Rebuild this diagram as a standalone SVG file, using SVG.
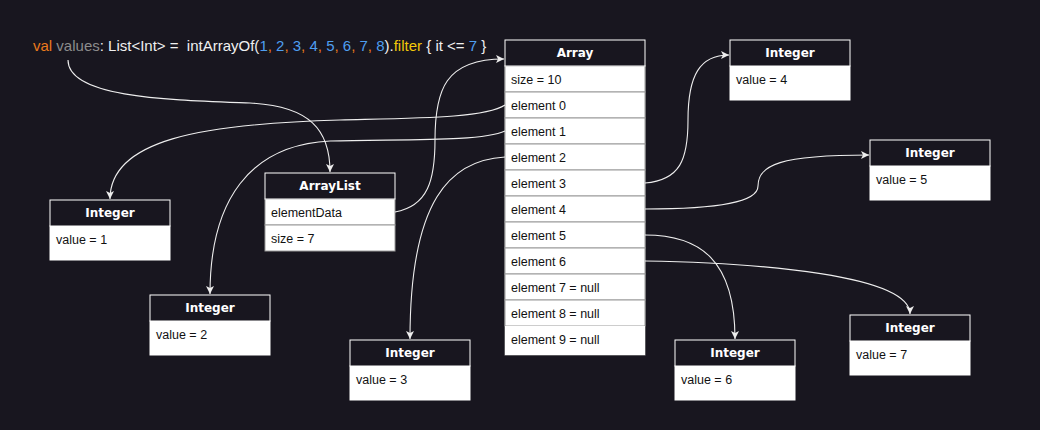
<svg xmlns="http://www.w3.org/2000/svg" width="1040" height="430" viewBox="0 0 1040 430">
<defs>
<style>
.bg{fill:#18161f}
.hd{fill:#18161f;stroke:#ffffff;stroke-width:1}
.row{fill:#ffffff;stroke:#9a9a9a;stroke-width:1}
.body{fill:#ffffff;stroke:#ffffff;stroke-width:1}
.ht{font-family:"DejaVu Sans",Verdana,sans-serif;font-weight:bold;font-size:12px;fill:#ffffff;text-anchor:middle}
.rt{font-family:"Liberation Sans",Arial,sans-serif;font-size:12.5px;fill:#111111}
.code{font-family:"Liberation Sans",Arial,sans-serif;font-size:15px;fill:#f0f0f0}
.kw{fill:#ea7a1c}
.vn{fill:#8c8c8c}
.num{fill:#4f9ef0}
.fn{fill:#f2c80a}
.edge{fill:none;stroke:#eeeeee;stroke-width:1.1}
</style>
<marker id="arr" markerWidth="10" markerHeight="10" refX="9" refY="5" orient="auto" markerUnits="userSpaceOnUse">
<path d="M1,1 L9,5 L1,9 L3,5 z" fill="#eeeeee"/>
</marker>
</defs>
<rect class="bg" x="0" y="0" width="1040" height="430"/>

<g id="code">
<text class="code" x="33" y="51" xml:space="preserve"><tspan class="kw">val</tspan> <tspan class="vn">values</tspan>: List&lt;Int&gt; =  intArrayOf(<tspan class="num">1</tspan><tspan class="kw">,</tspan> <tspan class="num">2</tspan><tspan class="kw">,</tspan> <tspan class="num">3</tspan><tspan class="kw">,</tspan> <tspan class="num">4</tspan><tspan class="kw">,</tspan> <tspan class="num">5</tspan><tspan class="kw">,</tspan> <tspan class="num">6</tspan><tspan class="kw">,</tspan> <tspan class="num">7</tspan><tspan class="kw">,</tspan> <tspan class="num">8</tspan>).<tspan class="fn">filter</tspan> { it &lt;= <tspan class="num">7</tspan> }</text>
</g>

<g id="array">
<rect class="row" x="505" y="66" width="140" height="289"/>
<rect class="row" x="505" y="66" width="140" height="26"/>
<rect class="row" x="505" y="92" width="140" height="26"/>
<rect class="row" x="505" y="118" width="140" height="26"/>
<rect class="row" x="505" y="144" width="140" height="26"/>
<rect class="row" x="505" y="170" width="140" height="26"/>
<rect class="row" x="505" y="196" width="140" height="26"/>
<rect class="row" x="505" y="222" width="140" height="26"/>
<rect class="row" x="505" y="248" width="140" height="26"/>
<rect class="row" x="505" y="274" width="140" height="26"/>
<rect class="row" x="505" y="300" width="140" height="26"/>
<rect class="body" x="505.5" y="326.5" width="139" height="28"/>
<rect class="hd" x="505" y="40" width="140" height="26"/>
<text class="ht" x="575" y="57">Array</text>
<text class="rt" x="511" y="83.5">size = 10</text>
<text class="rt" x="511" y="109.5">element 0</text>
<text class="rt" x="511" y="135.5">element 1</text>
<text class="rt" x="511" y="161.5">element 2</text>
<text class="rt" x="511" y="187.5">element 3</text>
<text class="rt" x="511" y="213.5">element 4</text>
<text class="rt" x="511" y="239.5">element 5</text>
<text class="rt" x="511" y="265.5">element 6</text>
<text class="rt" x="511" y="291.5">element 7 = null</text>
<text class="rt" x="511" y="317.5">element 8 = null</text>
<text class="rt" x="511" y="343.5">element 9 = null</text>
</g>

<g id="arraylist">
<rect class="row" x="265" y="199" width="130" height="26"/>
<rect class="row" x="265" y="225" width="130" height="26"/>
<rect class="hd" x="265" y="173" width="130" height="26"/>
<text class="ht" x="330" y="190">ArrayList</text>
<text class="rt" x="271" y="216.5">elementData</text>
<text class="rt" x="271" y="242.5">size = 7</text>
</g>

<g id="integer1">
<rect class="body" x="50" y="226" width="120" height="34"/>
<rect class="hd" x="50" y="200" width="120" height="26"/>
<text class="ht" x="110" y="217">Integer</text>
<text class="rt" x="56" y="243.5">value = 1</text>
</g>
<g id="integer2">
<rect class="body" x="150" y="321" width="120" height="34"/>
<rect class="hd" x="150" y="295" width="120" height="26"/>
<text class="ht" x="210" y="312">Integer</text>
<text class="rt" x="156" y="338.5">value = 2</text>
</g>
<g id="integer3">
<rect class="body" x="350" y="366" width="120" height="34"/>
<rect class="hd" x="350" y="340" width="120" height="26"/>
<text class="ht" x="410" y="357">Integer</text>
<text class="rt" x="356" y="383.5">value = 3</text>
</g>
<g id="integer4">
<rect class="body" x="730" y="66" width="120" height="34"/>
<rect class="hd" x="730" y="40" width="120" height="26"/>
<text class="ht" x="790" y="57">Integer</text>
<text class="rt" x="736" y="83.5">value = 4</text>
</g>
<g id="integer5">
<rect class="body" x="870" y="166" width="120" height="34"/>
<rect class="hd" x="870" y="140" width="120" height="26"/>
<text class="ht" x="930" y="157">Integer</text>
<text class="rt" x="876" y="183.5">value = 5</text>
</g>
<g id="integer6">
<rect class="body" x="675" y="366" width="120" height="34"/>
<rect class="hd" x="675" y="340" width="120" height="26"/>
<text class="ht" x="735" y="357">Integer</text>
<text class="rt" x="681" y="383.5">value = 6</text>
</g>
<g id="integer7">
<rect class="body" x="850" y="341" width="120" height="34"/>
<rect class="hd" x="850" y="315" width="120" height="26"/>
<text class="ht" x="910" y="332">Integer</text>
<text class="rt" x="856" y="358.5">value = 7</text>
</g>

<g id="connectors">
<path class="edge" marker-end="url(#arr)" d="M68,60 C68,98 170,100 250,103 C310,106 330,130 330,172"/>
<path class="edge" marker-end="url(#arr)" d="M505,105 C485,118 420,118 340,120 C200,124 110,140 110,199"/>
<path class="edge" marker-end="url(#arr)" d="M505,131 C482,142 400,139 330,141 C250,145 210,200 210,294"/>
<path class="edge" marker-end="url(#arr)" d="M505,157 C450,160 410,200 410,339"/>
<path class="edge" marker-end="url(#arr)" d="M395,212 C428,206 435,180 435,140 C435,90 445,59 504,59"/>
<path class="edge" marker-end="url(#arr)" d="M645,183 C680,180 688,160 688,120 C688,75 700,55 729,55"/>
<path class="edge" marker-end="url(#arr)" d="M645,209 C720,209 758,202 758,186 C758,165 780,155 869,155"/>
<path class="edge" marker-end="url(#arr)" d="M645,235 C700,235 735,260 735,339"/>
<path class="edge" marker-end="url(#arr)" d="M645,261 C760,263 910,275 910,314"/>
</g>
</svg>
